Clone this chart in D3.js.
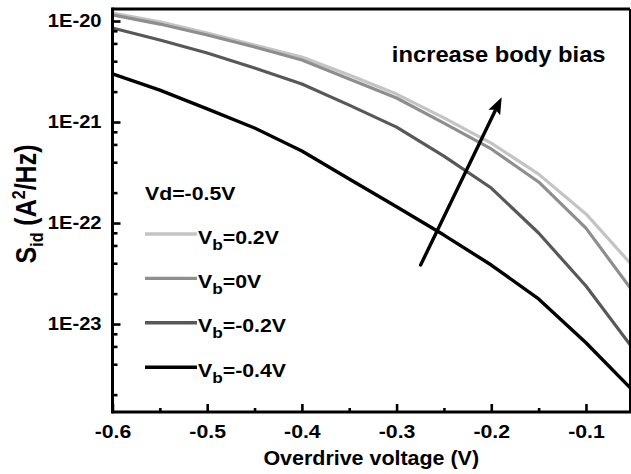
<!DOCTYPE html>
<html>
<head>
<meta charset="utf-8">
<script src="https://cdn.jsdelivr.net/npm/d3@7"></script>
<style>
  html, body { margin: 0; padding: 0; background: #fff; }
  svg { display: block; }
  text { font-family: "Liberation Sans", Arial, sans-serif; font-weight: bold; fill: #000; }
</style>
</head>
<body>
<svg id="chart" width="631" height="474"></svg>
<script>
// ---------- data ----------
const overdrive = [-0.6, -0.55, -0.5, -0.45, -0.4, -0.35, -0.3, -0.25, -0.2, -0.15, -0.1, -0.05];
const sidVb02  = [1.20e-20, 9.8e-21, 7.6e-21, 5.78e-21, 4.41e-21, 2.92e-21, 1.89e-21, 1.10e-21, 6.19e-22, 3.05e-22, 1.23e-22, 3.71e-23];
const sidVb0   = [1.15e-20, 9.33e-21, 7.26e-21, 5.53e-21, 4.11e-21, 2.67e-21, 1.73e-21, 9.77e-22, 5.41e-22, 2.55e-22, 8.91e-23, 2.07e-23];
const sidVbm02 = [8.53e-21, 6.49e-21, 4.82e-21, 3.43e-21, 2.38e-21, 1.47e-21, 8.91e-22, 4.60e-22, 2.22e-22, 7.96e-23, 2.38e-23, 5.65e-24];
const sidVbm04 = [2.99e-21, 2.07e-21, 1.35e-21, 8.73e-22, 5.16e-22, 2.73e-22, 1.45e-22, 7.60e-23, 3.84e-23, 1.77e-23, 6.53e-24, 2.17e-24];
const seriesLabels = ["0.2V", "0V", "-0.2V", "-0.4V"];
const seriesColors = ["#c4c4c4", "#8e8e8e", "#585858", "#000000"];
const xTicks = [-0.6, -0.5, -0.4, -0.3, -0.2, -0.1];
const xTickLabels = ["-0.6", "-0.5", "-0.4", "-0.3", "-0.2", "-0.1"];
const xMinorTicks = [-0.55, -0.45, -0.35, -0.25, -0.15];
const yTicks = [1e-20, 1e-21, 1e-22, 1e-23];
const yTickLabels = ["1E-20", "1E-21", "1E-22", "1E-23"];
const yMinorTicks = [8e-21, 6e-21, 4e-21, 2e-21, 8e-22, 6e-22, 4e-22, 2e-22, 8e-23, 6e-23, 4e-23, 2e-23, 8e-24, 6e-24, 4e-24, 2e-24];
const arrowFrom = [-0.2746, 3.84e-23];
const arrowTo = [-0.189, 1.76e-21];
const noteText = "increase body bias";
const notePos = [-0.305, 3.93e-21];
const legendTitle = "Vd=-0.5V";

const series = [sidVb02, sidVb0, sidVbm02, sidVbm04];

// ---------- layout ----------
const L = 112.5, R = 630, T = 9, B = 412;
const STRETCH = 1.15;

const svg = d3.select("#chart");
const x = d3.scaleLinear().domain([-0.6, -0.0535]).range([L, R]);
const y = d3.scaleLog().domain([Math.pow(10, -23.871), Math.pow(10, -19.881)]).range([B, T]);

svg.append("defs").append("clipPath").attr("id", "clip")
  .append("rect").attr("x", L).attr("y", T).attr("width", R - L).attr("height", B - T);

// curves
const line = d3.line().x((d, i) => x(overdrive[i])).y(d => y(d));
const gLines = svg.append("g").attr("clip-path", "url(#clip)");
series.forEach((s, k) => {
  gLines.append("path").datum(s)
    .attr("d", line)
    .attr("fill", "none")
    .attr("stroke", seriesColors[k])
    .attr("stroke-width", k === 3 ? 3.4 : 3.2)
    .attr("stroke-linejoin", "round");
});

// axes
function styleAxis(g) {
  g.select(".domain").remove();
  g.selectAll(".tick line").attr("stroke", "#000").attr("stroke-width", 2.6);
}
const yAxisMajor = d3.axisLeft(y).tickValues(yTicks)
  .tickFormat((d, i) => yTickLabels[i]).tickSizeInner(-8).tickSizeOuter(0).tickPadding(11);
const gy = svg.append("g").attr("transform", `translate(${L},0)`).call(yAxisMajor).call(styleAxis);
gy.selectAll("text").attr("font-size", 17.5).attr("font-family", "Liberation Sans, Arial, sans-serif")
  .attr("font-weight", "bold").attr("fill", "#000")
  .attr("x", -11 / STRETCH).attr("transform", `scale(${STRETCH},1)`);

const yAxisMinor = d3.axisLeft(y).tickValues(yMinorTicks).tickFormat("").tickSizeInner(-5).tickSizeOuter(0);
svg.append("g").attr("transform", `translate(${L},0)`).call(yAxisMinor).call(styleAxis);

const xAxisMajor = d3.axisBottom(x).tickValues(xTicks).tickFormat((d, i) => xTickLabels[i])
  .tickSizeInner(-8).tickSizeOuter(0).tickPadding(13);
const gx = svg.append("g").attr("transform", `translate(0,${B})`).call(xAxisMajor).call(styleAxis);
gx.selectAll("text").attr("font-size", 18.5).attr("font-family", "Liberation Sans, Arial, sans-serif")
  .attr("font-weight", "bold").attr("fill", "#000")
  .attr("transform", `scale(${STRETCH},1)`);

const xAxisMinor = d3.axisBottom(x).tickValues(xMinorTicks).tickFormat("").tickSizeInner(-4).tickSizeOuter(0);
svg.append("g").attr("transform", `translate(0,${B})`).call(xAxisMinor).call(styleAxis);

// frame
svg.append("line").attr("x1", L).attr("x2", R).attr("y1", T).attr("y2", T).attr("stroke", "#000").attr("stroke-width", 3);
svg.append("line").attr("x1", R).attr("x2", R).attr("y1", T).attr("y2", B).attr("stroke", "#000").attr("stroke-width", 2);
svg.append("line").attr("x1", L).attr("x2", R + 1).attr("y1", B).attr("y2", B).attr("stroke", "#000").attr("stroke-width", 3);
svg.append("line").attr("x1", L).attr("x2", L).attr("y1", T - 1.5).attr("y2", B + 1.5).attr("stroke", "#000").attr("stroke-width", 3);

// axis titles
svg.append("text")
  .attr("transform", `translate(${(L + R) / 2},465) scale(1.1,1)`)
  .attr("text-anchor", "middle").attr("font-size", 19.5)
  .text("Overdrive voltage (V)");

const yt = svg.append("text")
  .attr("transform", `translate(36,204) rotate(-90) scale(1,${STRETCH})`)
  .attr("text-anchor", "middle").attr("font-size", 25);
yt.append("tspan").text("S");
yt.append("tspan").attr("font-size", 16).attr("dy", 6).text("id");
yt.append("tspan").attr("dy", -6).text(" (A");
yt.append("tspan").attr("font-size", 16).attr("dy", -10).text("2");
yt.append("tspan").attr("dy", 10).text("/Hz)");

// legend
const legX = 145, legTitleY = 200, leg0 = 234, legStep = 44.4;
svg.append("text").attr("transform", `translate(${legX},${legTitleY}) scale(${STRETCH},1)`)
  .attr("font-size", 18.5).text(legendTitle);
seriesLabels.forEach((lab, k) => {
  const ly = leg0 + k * legStep;
  svg.append("line").attr("x1", legX).attr("x2", legX + 52).attr("y1", ly).attr("y2", ly)
    .attr("stroke", seriesColors[k]).attr("stroke-width", k === 3 ? 3.6 : 3.4);
  const t = svg.append("text").attr("transform", `translate(${legX + 53},${ly + 9.5}) scale(${STRETCH},1)`)
    .attr("font-size", 18.5);
  t.append("tspan").text("V");
  t.append("tspan").attr("font-size", 15).attr("dy", 6).text("b");
  t.append("tspan").attr("dy", -6).text("=" + lab);
});

// annotation
svg.append("text").attr("transform", `translate(${x(notePos[0])},${y(notePos[1])}) scale(1.08,1)`)
  .attr("font-size", 22).text(noteText);

const ax0 = x(arrowFrom[0]), ay0 = y(arrowFrom[1]);
const ax1 = x(arrowTo[0]), ay1 = y(arrowTo[1]);
const ang = Math.atan2(ay1 - ay0, ax1 - ax0);
const headLen = 17, headHalf = 6.5;
const bx = ax1 - headLen * Math.cos(ang), by = ay1 - headLen * Math.sin(ang);
svg.append("line").attr("x1", ax0).attr("y1", ay0).attr("x2", bx + 2 * Math.cos(ang)).attr("y2", by + 2 * Math.sin(ang))
  .attr("stroke", "#000").attr("stroke-width", 3.4).attr("stroke-linecap", "round");
svg.append("path")
  .attr("d", `M${ax1},${ay1} L${bx - headHalf * Math.sin(ang)},${by + headHalf * Math.cos(ang)} L${bx + 3 * Math.cos(ang)},${by + 3 * Math.sin(ang)} L${bx + headHalf * Math.sin(ang)},${by - headHalf * Math.cos(ang)} Z`)
  .attr("fill", "#000");
</script>
</body>
</html>
